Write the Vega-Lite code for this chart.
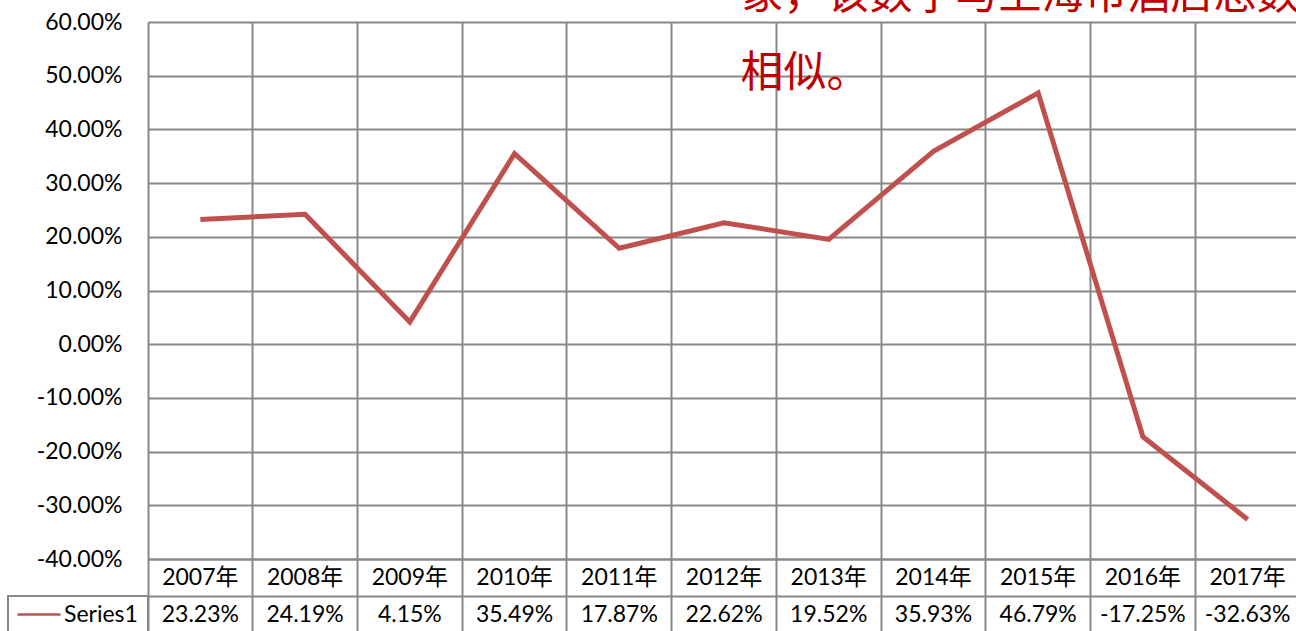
{
  "$schema": "https://vega.github.io/schema/vega-lite/v6.json",
  "background": "white",
  "padding": {"left": 7, "top": -25, "right": 0, "bottom": 0},
  "datasets": {
    "rates": [
      {"year": "2007年", "value": 0.2323},
      {"year": "2008年", "value": 0.2419},
      {"year": "2009年", "value": 0.0415},
      {"year": "2010年", "value": 0.3549},
      {"year": "2011年", "value": 0.1787},
      {"year": "2012年", "value": 0.2262},
      {"year": "2013年", "value": 0.1952},
      {"year": "2014年", "value": 0.3593},
      {"year": "2015年", "value": 0.4679},
      {"year": "2016年", "value": -0.1725},
      {"year": "2017年", "value": -0.3263}
    ]
  },
  "columns": 2,
  "spacing": 0,
  "bounds": "flush",
  "align": "each",
  "concat": [
    {
      "width": 140,
      "height": 537,
      "data": {"values": []},
      "mark": "point"
    },
    {
      "width": 1152,
      "height": 537,
      "data": {"name": "rates"},
      "title": {
        "text": "象，该数字与上海市酒店总数",
        "subtitle": "相似。",
        "anchor": "start",
        "frame": "group",
        "align": "left",
        "dx": 592.5,
        "dy": 85,
        "offset": 0,
        "fontSize": 43,
        "font": "Noto Sans CJK SC",
        "fontWeight": "normal",
        "color": "#C00000",
        "subtitleFontSize": 43,
        "subtitleFont": "Noto Sans CJK SC",
        "subtitleFontWeight": "normal",
        "subtitleColor": "#C00000",
        "subtitlePadding": 35
      },
      "mark": {"type": "line", "color": "#C0504D", "strokeWidth": 5},
      "encoding": {
        "x": {
          "field": "year",
          "type": "nominal",
          "scale": {"type": "band", "paddingInner": 0, "paddingOuter": 0},
          "axis": {"title": null, "labels": false, "ticks": false, "domain": false, "grid": true, "bandPosition": 0, "gridColor": "#888888", "gridWidth": 2, "gridOpacity": 1}
        },
        "y": {
          "field": "value",
          "type": "quantitative",
          "scale": {"domain": [-0.4, 0.6], "nice": false, "zero": false},
          "axis": {
            "title": null,
            "format": ".2%",
            "values": [-0.4, -0.3, -0.2, -0.1, 0, 0.1, 0.2, 0.3, 0.4, 0.5, 0.6],
            "grid": true,
            "gridColor": "#888888",
            "gridWidth": 2,
            "gridOpacity": 1,
            "domain": false,
            "ticks": false,
            "tickSize": 0,
            "labelPadding": 26,
            "labelFontSize": 23,
            "labelFont": "Lato",
            "labelColor": "#000000"
          }
        }
      }
    },
    {
      "width": 140,
      "height": 74,
      "data": {"values": [{"series": "Series1"}]},
      "layer": [
        {
          "mark": {"type": "rect", "filled": false, "color": "#888888", "strokeWidth": 2},
          "encoding": {
            "y": {"datum": "value", "type": "nominal", "scale": {"type": "band", "domain": ["year", "value"], "paddingInner": 0, "paddingOuter": 0}, "axis": null}
          }
        },
        {
          "mark": {"type": "point", "shape": "stroke", "size": 1849, "color": "#C0504D", "strokeWidth": 2.5, "opacity": 1, "xOffset": -39},
          "encoding": {"y": {"datum": "value", "type": "nominal"}}
        },
        {
          "mark": {"type": "text", "align": "left", "xOffset": -14, "fontSize": 23, "font": "Lato", "color": "#000000"},
          "encoding": {"y": {"datum": "value", "type": "nominal"}, "text": {"field": "series"}}
        }
      ]
    },
    {
      "width": 1152,
      "height": 74,
      "data": {"name": "rates"},
      "encoding": {
        "x": {
          "field": "year",
          "type": "nominal",
          "scale": {"type": "band", "paddingInner": 0, "paddingOuter": 0},
          "axis": {"title": null, "labels": false, "ticks": false, "domain": false, "grid": true, "bandPosition": 0, "gridColor": "#888888", "gridWidth": 2, "gridOpacity": 1}
        }
      },
      "layer": [
        {
          "mark": {"type": "text", "fontSize": 23, "font": "Lato, Noto Sans CJK SC", "color": "#000000"},
          "encoding": {
            "y": {
              "datum": "year",
              "type": "nominal",
              "scale": {"type": "band", "domain": ["year", "value"], "paddingInner": 0, "paddingOuter": 0},
              "axis": {"title": null, "labels": false, "ticks": false, "domain": false, "grid": true, "bandPosition": 0, "gridColor": "#888888", "gridWidth": 2, "gridOpacity": 1}
            },
            "text": {"field": "year"}
          }
        },
        {
          "mark": {"type": "text", "fontSize": 23, "font": "Lato, Noto Sans CJK SC", "color": "#000000"},
          "encoding": {
            "y": {"datum": "value", "type": "nominal"},
            "text": {"field": "value", "format": ".2%"}
          }
        }
      ]
    }
  ],
  "config": {
    "view": {"stroke": null},
    "locale": {"number": {"decimal": ".", "thousands": ",", "grouping": [3], "currency": ["$", ""], "minus": "-"}}
  }
}
